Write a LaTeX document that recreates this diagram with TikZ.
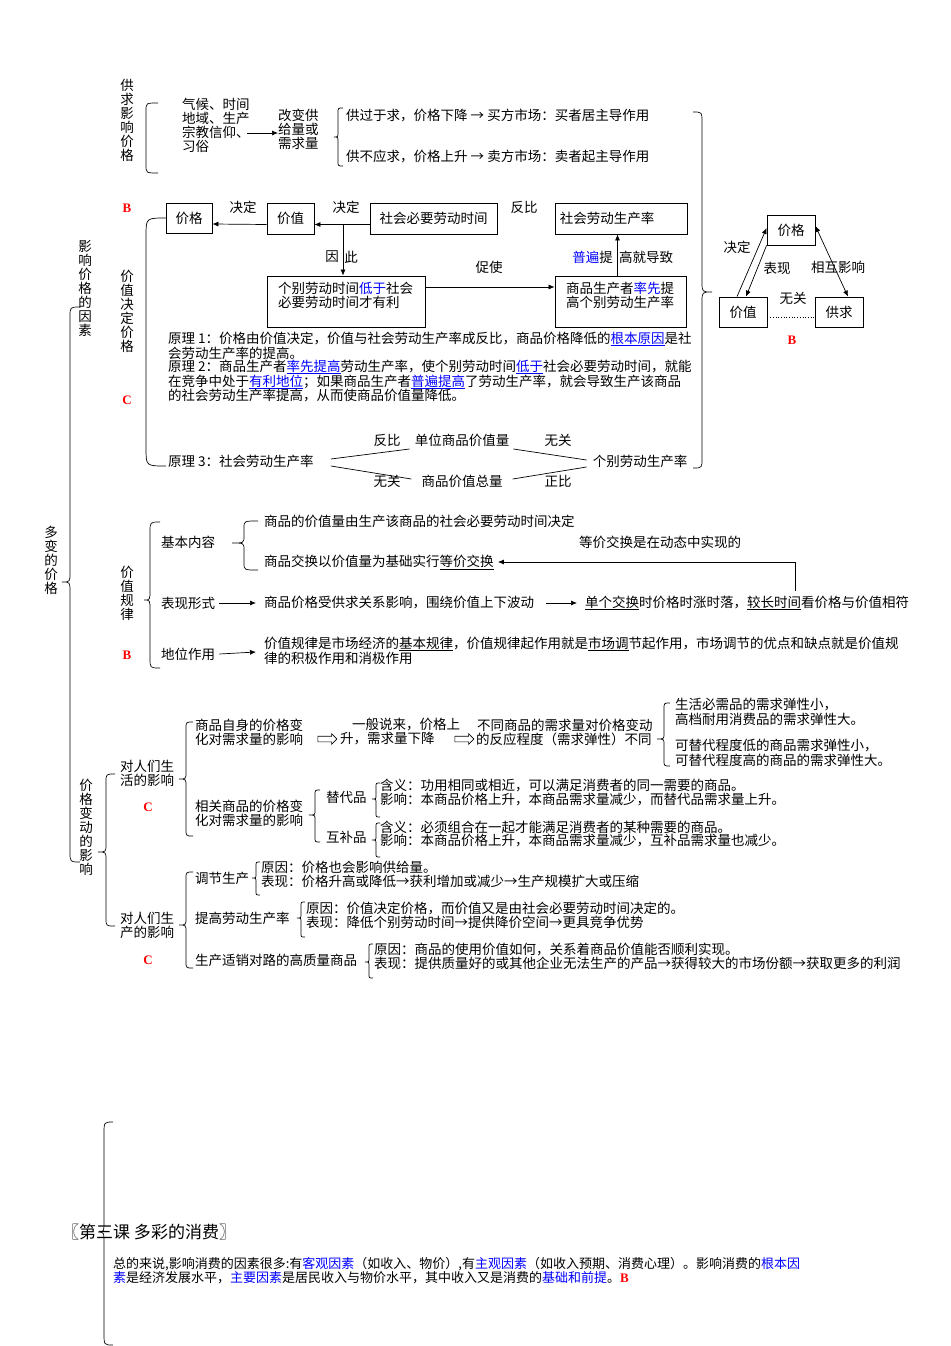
\documentclass[tikz,border=0pt]{standalone}
\usepackage{fontspec}
\setmainfont{Noto Sans CJK SC}
\newfontfamily\serifb{Liberation Serif}
\usetikzlibrary{arrows.meta,shapes.arrows,calc}
\newcommand\fs{\fontsize{13.5}{14.3}\selectfont}
\newcommand\fsv{\fontsize{13.5}{14}\selectfont}
\newcommand\fsb{\fontsize{13}{14}\selectfont}
\newcommand\myblue[1]{\textcolor{blue}{#1}}
\newcommand\myub[1]{\textcolor{blue}{\underline{#1}}}
\newcommand\myul[1]{\underline{#1}}
% brace: #1 end x, #2 vertical x, #3 tip x, #4 top y, #5 bottom y, #6 tip y, #7 radius
\newcommand\mybrace[7]{\draw[ln] (#1,#4) .. controls (#2,#4) .. (#2,{#4+#7}) -- (#2,{#6-#7}) .. controls (#2,#6) .. (#3,#6) .. controls (#2,#6) .. (#2,{#6+#7}) -- (#2,{#5-#7}) .. controls (#2,#5) .. (#1,#5);}
% bracket: #1 end x, #2 vertical x, #3 top y, #4 bottom y, #5 radius
\newcommand\mybrack[5]{\draw[ln] (#1,#3) .. controls (#2,#3) .. (#2,{#3+#5}) -- (#2,{#4-#5}) .. controls (#2,#4) .. (#1,#4);}
\begin{document}
\begin{tikzpicture}[x=1pt,y=-1pt,
 txt/.style={anchor=west,inner sep=0pt,font=\fs},
 ctr/.style={inner sep=0pt,font=\fs},
 vtxt/.style={inner sep=0pt,font=\fsv,align=center},
 bx/.style={draw,line width=0.8pt,inner sep=0pt,font=\fs},
 ln/.style={line width=0.7pt},
 arr/.style={line width=0.7pt,-{Latex[length=6pt,width=5pt]}},
 arrb/.style={line width=0.7pt,{Latex[length=6pt,width=5pt]}-{Latex[length=6pt,width=5pt]}},
 redm/.style={inner sep=0pt,text=red,font=\serifb\bfseries\fontsize{13}{13}\selectfont},
 harr/.style={single arrow,draw,line width=0.6pt,minimum height=19pt,single arrow head extend=2.5pt,inner sep=2.5pt}
]
\path[fill=white,use as bounding box] (0,0) rectangle (950,1346);

% ===== 供求影响价格 =====
\node[vtxt] (v1) at (127,120) {供\\求\\影\\响\\价\\格};
\mybrack{158}{146}{103}{173}{8}
\node[txt] (q1) at (182,104) {气候、时间};
\node[txt] (q2) at (182,118) {地域、生产};
\node[txt] (q3) at (182,132) {宗教信仰、};
\node[txt] (q4) at (182,146) {习俗};
\node[txt] (g1) at (278,115) {改变供};
\node[txt] (g2) at (278,129) {给量或};
\node[txt] (g3) at (278,143) {需求量};
\draw[arr] (247,133) coordinate (qa) -- (qa -| g2.west);
\mybrace{343}{338}{334}{108}{166}{137}{5}
\node[txt] (s1) at (346,115) {供过于求，价格下降 → 买方市场：买者居主导作用};
\node[txt] (s2) at (346,156) {供不应求，价格上升 → 卖方市场：卖者起主导作用};
\mybrace{693}{702}{712}{112}{468}{292}{10}

% ===== 价值决定价格 =====
\node[redm] (rB1) at (127,208) {B};
\node[vtxt] (v2) at (127,311) {价\\值\\决\\定\\价\\格};
\node[redm] (rC1) at (127,400) {C};
\node[bx,minimum width=46pt,minimum height=30pt] (b1) at (189,218) {价格};
\node[bx,minimum width=47pt,minimum height=31pt] (b2) at (290.5,218.5) {价值};
\node[bx,minimum width=127pt,minimum height=31pt] (b3) at (433.5,218.5) {社会必要劳动时间};
\node[bx,minimum width=132pt,minimum height=31pt] (b4) at (621,218.5) {\hspace*{-28pt}社会劳动生产率};
\node[ctr] (l1) at (243,207) {决定};
\node[ctr] (l2) at (346,207) {决定};
\node[ctr] (l3) at (524,207) {反比};
\draw[arr] ([yshift=-6pt]b2.west) -- ([yshift=-6pt]b1.east);
\draw[arr] ([yshift=-6pt]b3.west) -- ([yshift=-6pt]b2.east);
\node[bx,minimum width=158pt,minimum height=51pt] (b5) at (346,301.5) {};
\node[txt] (b5a) at (278,288) {个别劳动时间\myblue{低于}社会};
\node[txt] (b5b) at (278,302) {必要劳动时间才有利};
\node[bx,minimum width=131pt,minimum height=51pt] (b6) at (620.5,301.5) {};
\node[txt] (b6a) at (566,288) {商品生产者\myblue{率先}提};
\node[txt] (b6b) at (566,302) {高个别劳动生产率};
\coordinate (yc) at (343,224.5);
\draw[arr] (yc) -- (yc |- b5.north);
\node[ctr] (yy1) at (332,257) {因};
\node[ctr] (yy2) at (351,257) {此};
\draw[arr] ([yshift=14.5pt]b5.east) -- ([yshift=14.5pt]b6.west);
\node[ctr] (cs) at (489,267) {促使};
\draw[arr] ([xshift=-3pt]b6.north) -- ([xshift=-3pt]b6.north |- b4.south);
\node[anchor=east,inner sep=0pt,font=\fs] (pb1) at (613,257) {\myblue{普遍}提};
\node[txt] (pb2) at (619,257) {高就导致};
\mybrack{166}{146}{218}{466}{18}

\node[txt] (y1) at (168,339) {原理 1：价格由价值决定，价值与社会劳动生产率成反比，商品价格降低的\myub{根本原因}是社};
\node[txt] (y2) at (168,353) {会劳动生产率的提高。};
\node[txt] (y3) at (168,367) {原理 2：商品生产者\myub{率先提高}劳动生产率，使个别劳动时间\myub{低于}社会必要劳动时间，就能};
\node[txt] (y4) at (168,382) {在竞争中处于\myub{有利地位}；如果商品生产者\myub{普遍提高}了劳动生产率，就会导致生产该商品};
\node[txt] (y5) at (168,396) {的社会劳动生产率提高，从而使商品价值量降低。};

\node[txt] (p3a) at (168,461) {原理 3：社会劳动生产率};
\node[ctr] (uw) at (462,440) {单位商品价值量};
\node[ctr] (dw) at (462,481) {商品价值总量};
\node[ctr] (p3b) at (640,461) {个别劳动生产率};
\node[ctr] (r1) at (387,440) {反比};
\node[ctr] (r2) at (558,440) {无关};
\node[ctr] (r3) at (387,481) {无关};
\node[ctr] (r4) at (558,481) {正比};
\draw[ln] ([xshift=17pt,yshift=2pt]p3a.east) -- ([xshift=-5pt,yshift=-9pt]uw.west);
\draw[ln] ([xshift=4pt,yshift=-9pt]uw.east) -- ([xshift=-6pt,yshift=1pt]p3b.west);
\draw[ln] ([xshift=17pt,yshift=-5pt]p3a.east) -- ([xshift=-10pt,yshift=2pt]dw.west);
\draw[ln] ([xshift=10pt,yshift=2pt]dw.east) -- ([xshift=-6pt,yshift=-6pt]p3b.west);

% ===== triangle =====
\node[bx,minimum width=48pt,minimum height=30pt] (t1) at (791,230) {价格};
\node[bx,minimum width=48pt,minimum height=30pt] (t2) at (743,312) {价值};
\node[bx,minimum width=48pt,minimum height=30pt] (t3) at (839,312) {供求};
\draw[arr] ([xshift=-6pt]t2.north) -- ([yshift=2pt]t1.west);
\draw[arr] (t1.south west) -- ([xshift=3pt]t2.north);
\draw[arrb] ([yshift=4pt]t1.east) -- ([xshift=9pt]t3.north);
\draw[line width=0.7pt,dotted] ([yshift=-5pt]t2.east) -- ([yshift=-5pt]t3.west);
\node[ctr] (tl1) at (737,247) {决定};
\node[ctr] (tl2) at (777,268) {表现};
\node[ctr] (tl3) at (838,267) {相互影响};
\node[ctr] (tl4) at (793,298) {无关};
\node[redm] (rB2) at (792,340) {B};

% ===== left trunk =====
\node[vtxt] (v3) at (85,288) {影\\响\\价\\格\\的\\因\\素};
\node[vtxt] (v4) at (51,560) {多\\变\\的\\价\\格};
\mybrace{80}{70}{62}{307}{862}{582}{10}

% ===== 价值规律 =====
\node[vtxt] (v5) at (127,593) {价\\值\\规\\律};
\node[redm] (rB3) at (127,655) {B};
\mybrace{160}{150}{144}{522}{668}{600}{10}
\node[txt] (jb) at (161,542) {基本内容};
\mybrace{258}{244}{232}{521}{570}{543}{7}
\node[txt] (jj1) at (264,521) {商品的价值量由生产该商品的社会必要劳动时间决定};
\node[ctr] (dt) at (660,542) {等价交换是在动态中实现的};
\node[txt] (jj2) at (264,562) {商品交换以价值量为基础实行\myul{等价交换}};
\node[txt] (xs) at (161,603) {表现形式};
\node[txt] (xs2) at (264,603) {商品价格受供求关系影响，围绕价值上下波动};
\node[txt] (xs3) at (585,603) {\myul{单个交换}时价格时涨时落，\myul{较长时间}看价格与价值相符};
\draw[arr] ([xshift=4pt]xs.east) -- ([xshift=-8pt]xs2.west);
\draw[arr] ([xshift=12pt]xs2.east) -- ([xshift=-8pt]xs3.west);
\coordinate (fb) at (795,591);
\draw[arr] (fb) -- (fb |- jj2.east) -- ([xshift=4pt]jj2.east);
\node[txt] (dw1) at (161,654) {地位作用};
\node[txt] (dl1) at (264,644) {价值规律是市场经济的\myul{基本规律}，价值规律起作用就是\myul{市场调}节起作用，市场调节的优点和缺点就是价值规};
\node[txt] (dl2) at (264,658) {律的积极作用和消极作用};
\draw[arr] ([xshift=4pt]dw1.east) -- ([xshift=-8pt,yshift=-8pt]dl1.west);

% ===== 价格变动的影响 =====
\node[vtxt] (v6) at (86,827) {价\\格\\变\\动\\的\\影\\响};
\mybrace{115}{106}{98}{774}{926}{852}{8}
\node[txt] (sh1) at (120,766) {对人们生};
\node[txt] (sh2) at (120,780) {活的影响};
\node[redm] (rC2) at (148,807) {C};
\mybrace{193}{186}{179}{722}{836}{779}{7}
\node[txt] (zs1) at (195,725) {商品自身的价格变};
\node[txt] (zs2) at (195,739) {化对需求量的影响};
\node[harr] (ha1) at (326,739) {};
\node[txt] (yb1) at (352,725) {一般说来，价格上};
\node[txt] (yb2) at (340,739) {升，需求量下降};
\node[harr] (ha2) at (463,739) {};
\node[txt] (bt1) at (477,725) {不同商品的需求量对价格变动};
\node[txt] (bt2) at (476,739) {的反应程度（需求弹性）不同};
\mybrace{670}{664}{657}{703}{766}{739}{6}
\node[txt] (e1) at (675,705) {生活必需品的需求弹性小，};
\node[txt] (e2) at (675,719) {高档耐用消费品的需求弹性大。};
\node[txt] (e3) at (675,746) {可替代程度低的商品需求弹性小，};
\node[txt] (e4) at (675,760) {可替代程度高的商品的需求弹性大。};
\node[txt] (xg1) at (195,806) {相关商品的价格变};
\node[txt] (xg2) at (195,820) {化对需求量的影响};
\mybrace{320}{315}{309}{790}{842}{815}{5}
\node[txt] (td) at (326,797) {替代品};
\node[txt] (hb) at (326,837) {互补品};
\mybrace{380}{376}{372}{783}{817}{799}{4}
\mybrace{380}{376}{372}{823}{857}{840}{4}
\node[txt] (td1) at (380,786) {含义：功用相同或相近，可以满足消费者的同一需要的商品。};
\node[txt] (td2) at (380,800) {影响：本商品价格上升，本商品需求量减少，而替代品需求量上升。};
\node[txt] (hb1) at (380,827) {含义：必须组合在一起才能满足消费者的某种需要的商品。};
\node[txt] (hb2) at (380,841) {影响：本商品价格上升，本商品需求量减少，互补品需求量也减少。};

\node[txt] (sc1) at (120,918) {对人们生};
\node[txt] (sc2) at (120,932) {产的影响};
\node[redm] (rC3) at (148,960) {C};
\mybrace{193}{186}{179}{872}{968}{925}{7}
\node[txt] (tj) at (195,878) {调节生产};
\mybrace{260}{256}{252}{862}{895}{878}{4}
\node[txt] (tj1) at (261,867) {原因：价格也会影响供给量。};
\node[txt] (tj2) at (261,881) {表现：价格升高或降低→获利增加或减少→生产规模扩大或压缩};
\node[txt] (tg) at (195,918) {提高劳动生产率};
\mybrace{305}{301}{297}{902}{937}{918}{4}
\node[txt] (tg1) at (306,908) {原因：价值决定价格，而价值又是由社会必要劳动时间决定的。};
\node[txt] (tg2) at (306,922) {表现：降低个别劳动时间→提供降价空间→更具竞争优势};
\node[txt] (sx) at (195,960) {生产适销对路的高质量商品};
\mybrace{373}{369}{365}{944}{978}{962}{4}
\node[txt] (sx1) at (374,949) {原因：商品的使用价值如何，关系着商品价值能否顺利实现。};
\node[txt] (sx2) at (374,963) {表现：提供质量好的或其他企业无法生产的产品→获得较大的市场份额→获取更多的利润};

% ===== 第三课 =====
\mybrace{113}{104}{98}{1122}{1345}{1232}{12}
\node[anchor=west,inner sep=0pt,font=\fontsize{17}{17}\selectfont] (k3) at (62,1232) {〖第三课 多彩的消费〗};
\node[anchor=west,inner sep=0pt,font=\fsb] (z1) at (113,1264) {总的来说,影响消费的因素很多:有\myblue{客观因素}（如收入、物价）,有\myblue{主观因素}（如收入预期、消费心理）。影响消费的\myblue{根本因}};
\node[anchor=west,inner sep=0pt,font=\fsb] (z2) at (113,1278) {\myblue{素}是经济发展水平，\myblue{主要因素}是居民收入与物价水平，其中收入又是消费的\myblue{基础和前提}。{\color{red}\serifb\bfseries B}};
\end{tikzpicture}
\end{document}
